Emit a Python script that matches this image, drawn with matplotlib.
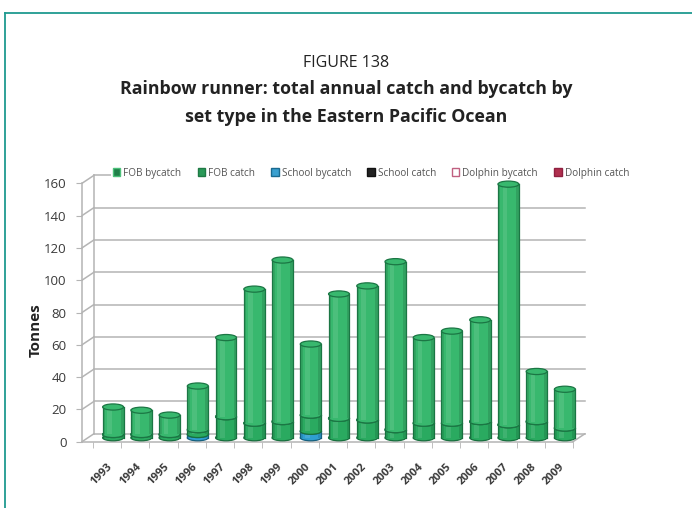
import matplotlib
matplotlib.use("Agg")
import matplotlib.pyplot as plt
from matplotlib.patches import Rectangle, Ellipse, Patch, ConnectionPatch
from matplotlib.transforms import ScaledTranslation
from matplotlib.lines import Line2D

# ---- data (tonnes) ----
years = ["1993", "1994", "1995", "1996", "1997", "1998", "1999", "2000", "2001",
         "2002", "2003", "2004", "2005", "2006", "2007", "2008", "2009"]
fob_bycatch = [17, 15, 12, 27, 49, 83, 100, 44, 77, 83, 104, 53, 57, 63, 149, 31, 24]
fob_catch = [2, 2, 2, 3, 13, 9, 10, 10, 12, 11, 5, 9, 9, 10, 8, 10, 6]
school_bycatch = [0, 0, 0, 2, 0, 0, 0, 4, 0, 0, 0, 0, 0, 0, 0, 0, 0]
school_catch = [0] * 17
dolphin_bycatch = [0] * 17
dolphin_catch = [0] * 17

y_ticks = [0, 20, 40, 60, 80, 100, 120, 140, 160]

legend_labels = ["FOB bycatch", "FOB catch", "School bycatch", "School catch",
                 "Dolphin bycatch", "Dolphin catch"]

# stacking order from the floor upwards: (values, body colour, edge colour)
stack = [
    (dolphin_catch, "#b0304e", "#701a30"),
    (dolphin_bycatch, "#f4dbe3", "#b06080"),
    (school_catch, "#2a2a2a", "#000000"),
    (school_bycatch, "#2f9fd0", "#15607f"),
    (fob_catch, "#2aaa60", "#17703e"),
    (fob_bycatch, "#38b86e", "#1b7644"),
]

legend_faces = ["#1f8048", "#2a9a58", "#3aa0d0", "#222222", "#ffffff", "#b0304e"]
legend_edges = ["#4cc07a", "#1f7a45", "#1a6a90", "#111111", "#c06080", "#902040"]

FRAME = "#1f9a90"
GRID = "#b4b4b4"
TEXT = "#3a3a3a"

fig = plt.figure(figsize=(6.92, 5.08), dpi=100)
fig.patch.set_facecolor("white")

# frame lines
fig.add_artist(Line2D([5 / 692, 5 / 692], [0, 1 - 13 / 508], color=FRAME, lw=1.3,
                      transform=fig.transFigure))
fig.add_artist(Line2D([5 / 692, 1], [1 - 13 / 508, 1 - 13 / 508], color=FRAME, lw=1.3,
                      transform=fig.transFigure))

# titles
fig.text(0.5, 1 - 63 / 508, "FIGURE 138", ha="center", va="center",
         fontsize=11.5, family="Open Sans", color="#222222")
fig.text(0.5, 1 - 89 / 508, "Rainbow runner: total annual catch and bycatch by",
         ha="center", va="center", fontsize=12.8, family="Open Sans",
         fontweight="bold", color="#222222")
fig.text(0.5, 1 - 117 / 508, "set type in the Eastern Pacific Ocean",
         ha="center", va="center", fontsize=12.8, family="Open Sans",
         fontweight="bold", color="#222222")

# front plane of the 3-D box
ax = fig.add_axes([82 / 692, (508 - 441.7) / 508, 491 / 692, (441.7 - 183.3) / 508])
n = len(years)
xl, xr = -0.889, n - 0.5
ax.set_xlim(xl, xr)
ax.set_ylim(0, 160)
ax.set_facecolor("none")
for s in ["top", "right"]:
    ax.spines[s].set_visible(False)
ax.spines["left"].set_color(GRID)
ax.spines["bottom"].set_color(GRID)
ax.spines["left"].set_linewidth(1.1)
ax.spines["bottom"].set_linewidth(1.1)

ax.set_yticks(y_ticks)
ax.set_yticklabels([str(v) for v in y_ticks], fontsize=9.5, color=TEXT,
                   family="Open Sans")
ax.tick_params(axis="y", length=4, color=GRID, pad=7)

ax.set_xticks(range(n))
ax.set_xticklabels(years, rotation=45, ha="right", rotation_mode="anchor",
                   fontsize=8, color=TEXT, family="Open Sans", fontweight="bold")
ax.tick_params(axis="x", length=0, pad=14)
ax.set_xticks([k - 0.5 for k in range(n + 1)], minor=True)
ax.tick_params(axis="x", which="minor", length=4, color=GRID)

ax.set_ylabel("Tonnes", fontsize=11, fontweight="bold", family="Open Sans",
              color="#222222")
ax.yaxis.set_label_coords(-0.08, 0.43)

# depth offsets: back wall and the middle plane where the cylinders stand
back = ax.transData + ScaledTranslation(0.12, 0.08, fig.dpi_scale_trans)
mid = ax.transData + ScaledTranslation(0.06, 0.04, fig.dpi_scale_trans)

# back wall grid lines and their diagonal connectors to the front axis
for v in y_ticks:
    ax.plot([xl, xr], [v, v], color=GRID, lw=1.1, transform=back,
            clip_on=False, zorder=1)
    ax.add_artist(ConnectionPatch((xl, v), (xl, v), coordsA=ax.transData,
                                  coordsB=back, color=GRID, lw=1.1, zorder=1))
ax.plot([xl, xl], [0, 160], color=GRID, lw=1.1, transform=back,
        clip_on=False, zorder=1)
# right edge of the floor
ax.add_artist(ConnectionPatch((xr, 0), (xr, 0), coordsA=ax.transData,
                              coordsB=back, color=GRID, lw=1.1, zorder=1))

# cylinders
w = 0.74
eh = 3.8
for i in range(n):
    base = 0.0
    for vals, col, edge in stack:
        v = vals[i]
        if v <= 0:
            continue
        top = base + v
        z = 4 + i * 0.01
        ax.add_patch(Ellipse((i, base), w, eh, facecolor=col, edgecolor=edge,
                             lw=0.9, transform=mid, clip_on=False, zorder=z))
        ax.add_patch(Rectangle((i - w / 2, base), w, v, facecolor=col,
                               edgecolor="none", transform=mid, clip_on=False,
                               zorder=z))
        # soft shading across the cylinder body
        ax.add_patch(Rectangle((i - w / 2, base), w * 0.12, v, facecolor="black",
                               alpha=0.10, edgecolor="none", transform=mid,
                               clip_on=False, zorder=z))
        ax.add_patch(Rectangle((i - w / 2 + w * 0.22, base), w * 0.22, v,
                               facecolor="white", alpha=0.10, edgecolor="none",
                               transform=mid, clip_on=False, zorder=z))
        ax.add_patch(Rectangle((i + w / 2 - w * 0.14, base), w * 0.14, v,
                               facecolor="black", alpha=0.12, edgecolor="none",
                               transform=mid, clip_on=False, zorder=z))
        ax.plot([i - w / 2, i - w / 2], [base, top], color=edge, lw=0.9,
                transform=mid, clip_on=False, zorder=z)
        ax.plot([i + w / 2, i + w / 2], [base, top], color=edge, lw=0.9,
                transform=mid, clip_on=False, zorder=z)
        ax.add_patch(Ellipse((i, top), w, eh, facecolor=col, edgecolor=edge,
                             lw=0.9, transform=mid, clip_on=False, zorder=z))
        base = top

# legend across the top of the plot
handles = [Patch(facecolor=f, edgecolor=e, lw=1.0)
           for f, e in zip(legend_faces, legend_edges)]
leg = ax.legend(handles, legend_labels, ncol=6, loc="center",
                bbox_to_anchor=(371 / 692, 1 - 173 / 508),
                bbox_transform=fig.transFigure, frameon=True,
                handlelength=0.75, handleheight=0.75, handletextpad=0.3,
                columnspacing=1.6, borderpad=0.2,
                prop={"family": "Open Sans", "size": 7.2})
leg.get_frame().set_facecolor("white")
leg.get_frame().set_edgecolor("none")
leg.get_frame().set_alpha(1)
for t in leg.get_texts():
    t.set_color("#555555")
leg.set_zorder(2)

fig.savefig("out.png", dpi=100)
